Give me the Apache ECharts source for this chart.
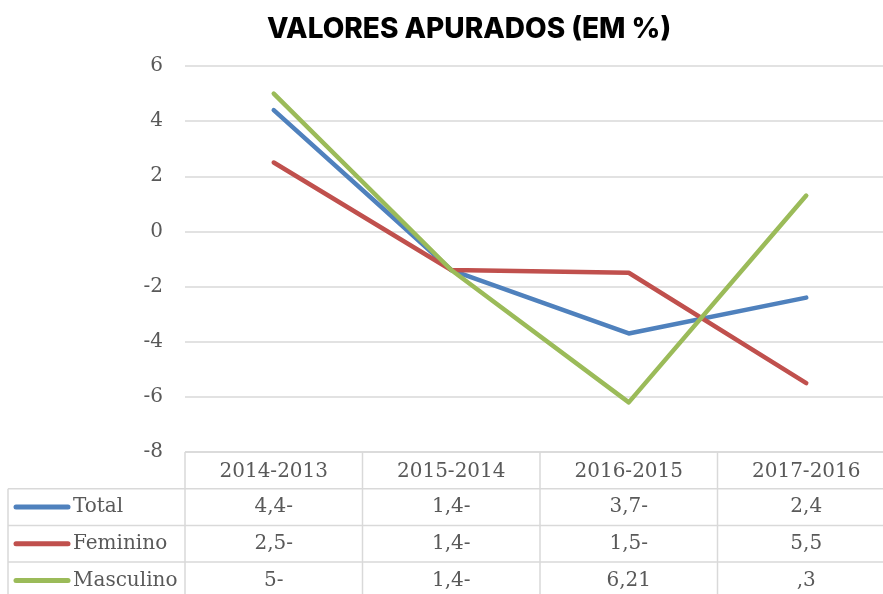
<!DOCTYPE html>
<html>
<head>
<meta charset="utf-8">
<script src="https://cdn.jsdelivr.net/npm/echarts@6/dist/echarts.min.js"></script>
<style>
  html, body { margin: 0; padding: 0; background: #fff; }
  #chart { width: 883px; height: 594px; }
</style>
</head>
<body>
<div id="chart"></div>
<script>
const categories = ['2014-2013', '2015-2014', '2016-2015', '2017-2016'];
const seriesNames = ['Total', 'Feminino', 'Masculino'];
const total = [4.4, -1.4, -3.7, -2.4];
const feminino = [2.5, -1.4, -1.5, -5.5];
const masculino = [5.0, -1.4, -6.2, 1.3];
// text of the data table as it is printed under the chart
const totalText = ['4,4-', '1,4-', '3,7-', '2,4'];
const femininoText = ['2,5-', '1,4-', '1,5-', '5,5'];
const masculinoText = ['5-', '1,4-', '6,21', ',3'];

const colors = ['#4f81bd', '#c0504d', '#9bbb59'];
const serif = '"DejaVu Serif", serif';
const grey = '#595959';
const border = '#d9d9d9';

let chart = echarts.init(document.getElementById('chart'));

function lineSeries(name, data, color) {
  return {
    name: name,
    type: 'line',
    data: data,
    symbol: 'none',
    lineStyle: { color: color, width: 4.5, cap: 'round', join: 'round' },
    itemStyle: { color: color }
  };
}

chart.setOption({
  animation: false,
  title: {
    text: 'VALORES APURADOS (EM %)',
    left: 464,
    top: 11,
    textAlign: 'center',
    textStyle: { fontFamily: 'Inter', fontWeight: 800, fontSize: 28, color: '#000' }
  },
  // plot runs a bit past the right edge of the window, like the original
  grid: { left: 185, width: 710, top: 66, bottom: 142, outerBoundsMode: 'none', containLabel: false },
  xAxis: {
    type: 'category',
    data: categories,
    axisLabel: { show: false },
    axisTick: { show: false },
    axisLine: { show: false }
  },
  yAxis: {
    type: 'value',
    min: -8,
    max: 6,
    interval: 2,
    axisLine: { show: false },
    axisTick: { show: false },
    axisLabel: { fontFamily: serif, fontSize: 20, color: grey, margin: 22 },
    splitLine: { lineStyle: { color: border, width: 1.5 } }
  },
  series: [
    lineSeries(seriesNames[0], total, colors[0]),
    lineSeries(seriesNames[1], feminino, colors[1]),
    lineSeries(seriesNames[2], masculino, colors[2])
  ]
});

// data table under the plot, aligned with the category axis
const rowsText = [totalText, femininoText, masculinoText];
const c0 = chart.convertToPixel({ xAxisIndex: 0 }, 0);
const c1 = chart.convertToPixel({ xAxisIndex: 0 }, 1);
const band = c1 - c0;
const tableTop = chart.convertToPixel({ yAxisIndex: 0 }, -8);
const rowH = 36.7;
const leftEdge = 8;
const plotLeft = c0 - band / 2;
const graphics = [];

function hline(x1, x2, y) {
  graphics.push({ type: 'line', shape: { x1: x1, y1: y, x2: x2, y2: y },
    style: { stroke: border, lineWidth: 1.5 }, silent: true });
}
function vline(x, y1, y2) {
  graphics.push({ type: 'line', shape: { x1: x, y1: y1, x2: x, y2: y2 },
    style: { stroke: border, lineWidth: 1.5 }, silent: true });
}
function label(txt, x, y, align) {
  graphics.push({ type: 'text', x: x, y: y, silent: true,
    style: { text: txt, fill: grey, font: '20px ' + serif, align: align || 'center', verticalAlign: 'middle' } });
}

hline(plotLeft, 900, tableTop);
for (let r = 1; r <= 3; r++) hline(leftEdge, 900, tableTop + r * rowH);
vline(leftEdge, tableTop + rowH, 600);
for (let i = 0; i <= categories.length; i++) vline(plotLeft + i * band, tableTop, 600);

categories.forEach(function (cat, i) {
  label(cat, c0 + i * band, tableTop + rowH / 2 + 1);
});
rowsText.forEach(function (row, r) {
  const y = tableTop + (r + 1.5) * rowH;
  graphics.push({ type: 'line', shape: { x1: 16, y1: y, x2: 68, y2: y },
    style: { stroke: colors[r], lineWidth: 5, lineCap: 'round' }, silent: true });
  label(seriesNames[r], 73, y, 'left');
  row.forEach(function (txt, i) {
    label(txt, c0 + i * band, y);
  });
});

chart.setOption({ graphic: graphics });
</script>
</body>
</html>
